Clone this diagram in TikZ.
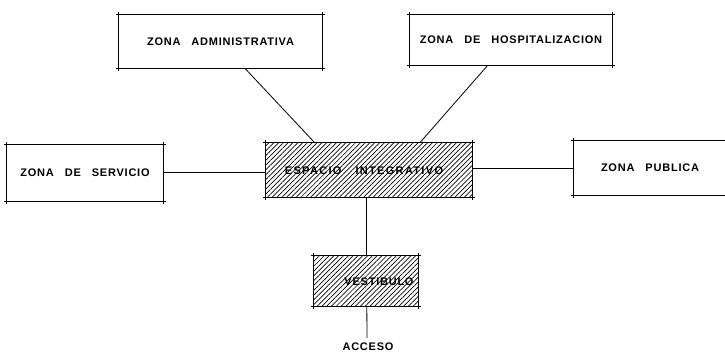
\documentclass[tikz,border=0pt]{standalone}
\usepackage{fontspec}
\setmainfont{Liberation Sans}
\usetikzlibrary{calc,patterns.meta}
\newcommand\wg{\hspace{11pt}}
\tikzset{
  zone/.style={rectangle, inner sep=0pt, font=\bfseries\fontsize{11}{13}\selectfont\addfontfeatures{LetterSpace=7}},
  hatch/.style={pattern={Lines[angle=45,distance=3.4pt,line width=0.7pt]}},
  link/.style={line width=0.8pt},
  edge/.style={line width=1.1pt}
}
\newcommand\xbox[2][3pt]{%
  \draw[edge] ($(#2.north west)+(-#1,0)$) -- ($(#2.north east)+(#1,0)$);
  \draw[edge] ($(#2.south west)+(-#1,0)$) -- ($(#2.south east)+(#1,0)$);
  \draw[edge] ($(#2.north west)+(0,#1)$) -- ($(#2.south west)+(0,-#1)$);
  \draw[edge] ($(#2.north east)+(0,#1)$) -- ($(#2.south east)+(0,-#1)$);
}
\begin{document}
\begin{tikzpicture}[x=1pt,y=-1pt]
\useasboundingbox (0,0) rectangle (725,354);
% boxes
\node[zone, minimum width=203pt, minimum height=53pt] (adm) at (220.5,41.5) {ZONA\wg ADMINISTRATIVA};
\node[zone, minimum width=202pt, minimum height=50pt] (hos) at (511,40) {ZONA\wg DE\wg HOSPITALIZACION};
\node[zone, minimum width=156pt, minimum height=56pt] (ser) at (85,173) {ZONA\wg DE\wg SERVICIO};
\fill[hatch] (266,143) rectangle (472,197);
\node[zone, minimum width=206pt, minimum height=54pt] (esp) at (369,170) {};
\node[zone, font=\bfseries\fontsize{11}{13}\selectfont\addfontfeatures{LetterSpace=12}] (espT) at (364,171) {ESPACIO\hspace{14pt}INTEGRATIVO};
\node[zone, minimum width=156pt, minimum height=54pt] (pub) at (652,168) {};
\node[zone] (pubT) at (650,168) {ZONA\wg PUBLICA};
\fill[hatch] (314,256) rectangle (418,306);
\node[zone, minimum width=104pt, minimum height=50pt] (ves) at (366,281) {};
\node[zone] (vesT) at (379,282) {VESTIBULO};
\node[zone] (acc) at (368,347) {ACCESO};
\xbox{adm}
\xbox{hos}
\xbox{ser}
\xbox{esp}
\xbox{pub}
\xbox{ves}
% connectors
\draw[link] ($(adm.south west)+(126,0)$) -- ($(esp.north west)+(49,0)$);
\draw[link] ($(hos.south west)+(78,0)$) -- ($(esp.north west)+(154,0)$);
\draw[link] ($(ser.east)+(0,-1)$) -- ($(esp.west)+(0,2)$);
\draw[link] ($(esp.east)+(0,-2)$) -- (pub.west);
\draw[link] ($(esp.south west)+(101,0)$) -- ($(ves.north west)+(53,0)$);
\draw[link] ($(ves.south west)+(53,0)$) -- ($(acc.north)+(-1,-5)$);
\end{tikzpicture}
\end{document}
